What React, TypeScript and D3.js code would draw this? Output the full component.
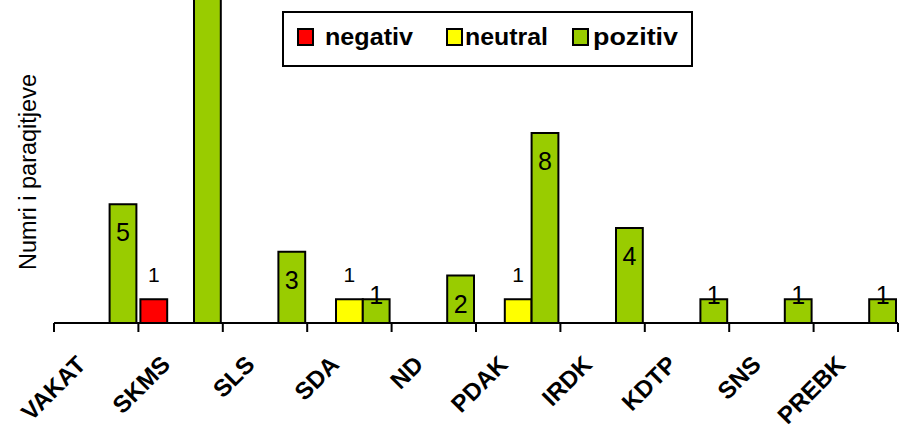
import React from "react";
import * as d3 from "d3";

const categories = ["VAKAT", "SKMS", "SLS", "SDA", "ND", "PDAK", "IRDK", "KDTP", "SNS", "PREBK"];
const seriesNames = ["negativ", "neutral", "pozitiv"];
const negativ = [0, 1, 0, 0, 0, 0, 0, 0, 0, 0];
const neutral = [0, 0, 0, 1, 0, 1, 0, 0, 0, 0];
const pozitiv = [5, 16, 3, 1, 2, 8, 4, 1, 1, 1];
const yTitle = "Numri i paraqitjeve";

const colors: Record<string, string> = { negativ: "#FF0000", neutral: "#FFFF00", pozitiv: "#99CC00" };
const FONT = "'Liberation Sans', Arial, sans-serif";

export default function App() {
  const W = 906, H = 429;
  const x0 = 54, x1 = 898, baseY = 323;
  const x = d3.scaleBand<string>().domain(categories).range([x0, x1]).paddingInner(0).paddingOuter(0);
  const bw = x.bandwidth();
  const xs = d3.scaleBand<string>().domain(seriesNames).range([2, bw - 2]);
  const y = d3.scaleLinear().domain([0, 13.6]).range([baseY, 0]);
  const values: Record<string, number[]> = { negativ, neutral, pozitiv };

  const ticks = [...categories.map((c) => x(c)!), x1];

  const bars: React.ReactNode[] = [];
  const labels: React.ReactNode[] = [];
  seriesNames.forEach((s) => {
    values[s].forEach((v, i) => {
      if (!v) return;
      const c = categories[i];
      const bx = x(c)! + xs(s)!;
      const top = y(v);
      bars.push(
        <rect key={s + c} x={bx} y={top} width={xs.bandwidth()} height={baseY - top}
          fill={colors[s]} stroke="#000" strokeWidth={2} />
      );
      const cx = bx + xs.bandwidth() / 2;
      if (s === "pozitiv") {
        const ly = v >= 2 ? top + 37 : top + 5;
        if (ly - 18 < 0) return;
        labels.push(
          <text key={"l" + s + c} x={cx} y={ly} textAnchor="middle"
            fontSize={25} fontFamily={FONT} fill="#000">{v}</text>
        );
      } else {
        labels.push(
          <text key={"l" + s + c} x={cx} y={top - 17} textAnchor="middle"
            fontSize={21} fontFamily={FONT} fill="#000">{v}</text>
        );
      }
    });
  });

  const legendItems = [
    { name: "negativ", sx: 298, tx: 325, len: 88 },
    { name: "neutral", sx: 447, tx: 465, len: 83 },
    { name: "pozitiv", sx: 573, tx: 593, len: 85 },
  ];

  return (
    <svg width={W} height={H} style={{ position: "absolute", left: 0, top: 0, background: "#fff" }}>
      <rect x={0} y={0} width={W} height={H} fill="#fff" />
      {bars}
      <line x1={x0} x2={x1} y1={baseY} y2={baseY} stroke="#000" strokeWidth={2} />
      {ticks.map((t, i) => (
        <line key={"t" + i} x1={t} x2={t} y1={baseY} y2={baseY + 9} stroke="#000" strokeWidth={2} />
      ))}
      {labels}
      {categories.map((c) => {
        const ax = x(c)! + bw / 2 - 9;
        const ay = 366;
        return (
          <text key={"x" + c} x={ax} y={ay} transform={`rotate(-45 ${ax} ${ay})`} textAnchor="end"
            fontSize={24} fontWeight="bold" fontFamily={FONT} fill="#000">{c}</text>
        );
      })}
      <text x={0} y={0} transform={`translate(36 172) rotate(-90)`} textAnchor="middle"
        fontSize={23.5} fontFamily={FONT} fill="#000">{yTitle}</text>
      <rect x={283} y={12} width={409} height={54} fill="#fff" stroke="#000" strokeWidth={2} />
      {legendItems.map((it) => (
        <g key={it.name}>
          <rect x={it.sx} y={29} width={15} height={16} fill={colors[it.name]} stroke="#000" strokeWidth={2} />
          <text x={it.tx} y={45} fontSize={23} fontWeight="bold" fontFamily={FONT} fill="#000"
            textLength={it.len} lengthAdjust="spacingAndGlyphs">{it.name}</text>
        </g>
      ))}
    </svg>
  );
}
